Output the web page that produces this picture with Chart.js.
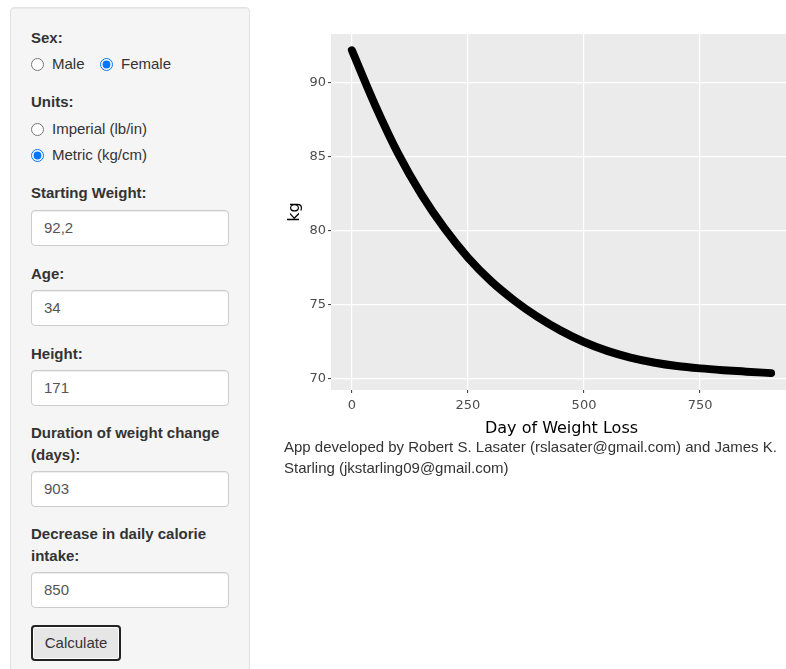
<!DOCTYPE html>
<html>
<head>
<meta charset="utf-8">
<script src="https://cdn.jsdelivr.net/npm/chart.js@4.4.0/dist/chart.umd.min.js"></script>
<style>
  html, body { margin: 0; padding: 0; background: #fff; overflow: hidden; width: 786px; height: 669px; }
  body { font-family: "Liberation Sans", Arial, Helvetica, sans-serif; font-size: 15px; color: #333; position: relative; }
  .well { position: absolute; left: 10px; top: 7px; width: 238px; height: 700px; background: #f5f5f5;
          border: 1px solid #e3e3e3; border-radius: 4px; box-shadow: inset 0 1px 1px rgba(0,0,0,.05); }
  .lbl { position: absolute; left: 31px; width: 198px; font-weight: bold; line-height: 22px; }
  .opt { position: absolute; line-height: 20px; }
  .rad { position: absolute; margin: 0; width: 13px; height: 13px; }
  .inp { position: absolute; left: 31px; width: 198px; height: 36px; box-sizing: border-box; border: 1px solid #ccc;
         border-radius: 4px; background: #fff; box-shadow: inset 0 1px 1px rgba(0,0,0,.075);
         padding: 0 12px; line-height: 34px; color: #555; font-size: 15px; }
  .btn { position: absolute; left: 31px; top: 625px; width: 90px; height: 36px; box-sizing: border-box;
         border: 2px solid #222; border-radius: 4px; background: #e6e6e6; color: #333; text-align: center;
         line-height: 31px; font-size: 15px; box-shadow: inset 0 0 0 1px #fff; }
  #chartBox { position: absolute; left: 280px; top: 20px; width: 520px; height: 422px; }
  .credit { position: absolute; left: 284px; top: 436px; width: 500px; line-height: 21px; color: #333; }
</style>
</head>
<body>
<div class="well"></div>

<div class="lbl" style="top:27px">Sex:</div>
<input class="rad" type="radio" name="sex" style="left:31px; top:58px">
<span class="opt" style="left:52px; top:54px">Male</span>
<input class="rad" type="radio" name="sex" checked style="left:100px; top:58px">
<span class="opt" style="left:121px; top:54px">Female</span>

<div class="lbl" style="top:91px">Units:</div>
<input class="rad" type="radio" name="units" style="left:31px; top:123px">
<span class="opt" style="left:52px; top:119px">Imperial (lb/in)</span>
<input class="rad" type="radio" name="units" checked style="left:31px; top:149px">
<span class="opt" style="left:52px; top:145px">Metric (kg/cm)</span>

<div class="lbl" style="top:182px">Starting Weight:</div>
<div class="inp" style="top:210px">92,2</div>

<div class="lbl" style="top:263px">Age:</div>
<div class="inp" style="top:290px">34</div>

<div class="lbl" style="top:343px">Height:</div>
<div class="inp" style="top:370px">171</div>

<div class="lbl" style="top:422px">Duration of weight change (days):</div>
<div class="inp" style="top:471px">903</div>

<div class="lbl" style="top:523px">Decrease in daily calorie intake:</div>
<div class="inp" style="top:572px">850</div>

<div class="btn">Calculate</div>

<div id="chartBox"><canvas id="weightChart"></canvas></div>

<div class="credit">App developed by Robert S. Lasater (rslasater@gmail.com) and James K. Starling (jkstarling09@gmail.com)</div>

<script>
// weight curve (kg per day of weight loss)
const days = [0, 50, 100, 150, 200, 250, 300, 350, 400, 450, 500, 550, 600, 650, 700, 750, 800, 850, 903];
const weightKg = [92.2, 88.5, 85.2, 82.45, 80.15, 78.2, 76.6, 75.3, 74.2, 73.27, 72.5, 71.9, 71.45, 71.12, 70.88, 70.72, 70.6, 70.5, 70.4];

const xTickValues = [0, 250, 500, 750];
const yTickValues = [70, 75, 80, 85, 90];

// grey ggplot-style panel behind the grid
const panelBackground = {
    id: 'panelBackground',
    beforeDraw(chart) {
        const {ctx, chartArea: {left, top, width, height}} = chart;
        ctx.save();
        ctx.fillStyle = '#ebebeb';
        ctx.fillRect(left, top, width, height);
        ctx.restore();
    }
};

const tickFont = { family: 'DejaVu Sans', size: 13 };
const titleFont = { family: 'DejaVu Sans', size: 16 };

const ctxWeight = document.getElementById('weightChart').getContext('2d');
const weightChart = new Chart(ctxWeight, {
    type: 'line',
    data: {
        datasets: [{
            data: days.map((d, i) => ({ x: d, y: weightKg[i] })),
            borderColor: '#000',
            borderWidth: 8,
            borderCapStyle: 'round',
            borderJoinStyle: 'round',
            cubicInterpolationMode: 'monotone',
            pointRadius: 0,
            fill: false
        }]
    },
    options: {
        responsive: true,
        maintainAspectRatio: false,
        animation: false,
        layout: { padding: { top: 14, right: 8, bottom: 0, left: 0 } },
        scales: {
            x: {
                type: 'linear',
                min: -45,
                max: 948,
                afterBuildTicks: scale => { scale.ticks = xTickValues.map(v => ({ value: v })); },
                afterFit: scale => { scale.height = 52; },
                border: { display: false },
                grid: { color: '#ffffff', lineWidth: 1.2, tickColor: '#333333', tickLength: 3, tickWidth: 1 },
                ticks: { color: '#4d4d4d', font: tickFont, padding: 5, maxRotation: 0 },
                title: { display: true, text: 'Day of Weight Loss', color: '#000', font: titleFont, padding: { top: 4, bottom: 4 } }
            },
            y: {
                min: 69.26,
                max: 93.3,
                afterBuildTicks: scale => { scale.ticks = yTickValues.map(v => ({ value: v })); },
                afterFit: scale => { scale.width = 51; },
                border: { display: false },
                grid: { color: '#ffffff', lineWidth: 1.2, tickColor: '#333333', tickLength: 3, tickWidth: 1 },
                ticks: { color: '#4d4d4d', font: tickFont, padding: 2 },
                title: { display: true, text: 'kg', color: '#000', font: titleFont, padding: { top: 5, bottom: 4 } }
            }
        },
        plugins: {
            legend: { display: false },
            tooltip: { enabled: false }
        }
    },
    plugins: [panelBackground]
});
</script>
</body>
</html>
